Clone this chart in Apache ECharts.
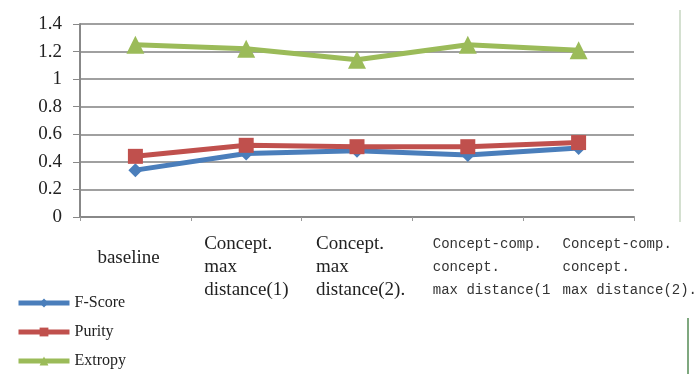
<!DOCTYPE html>
<html>
<head>
<meta charset="utf-8">
<script src="https://cdn.jsdelivr.net/npm/echarts@6/dist/echarts.min.js"></script>
<style>html,body{margin:0;padding:0;background:#fff;}#c{width:694px;height:374px;}</style>
</head>
<body>
<div id="c"></div>
<script>
const categories = ['baseline', 'Concept max distance(1)', 'Concept max distance(2)', 'Concept-comp concept max distance(1)', 'Concept-comp concept max distance(2)'];
const xLabelLines = [
  ['baseline'],
  ['Concept.', 'max', 'distance(1)'],
  ['Concept.', 'max', 'distance(2).'],
  ['Concept-comp.', 'concept.', 'max distance(1'],
  ['Concept-comp.', 'concept.', 'max distance(2).']
];
const yTicks = [0, 0.2, 0.4, 0.6, 0.8, 1, 1.2, 1.4];
const fScore = [0.34, 0.46, 0.48, 0.45, 0.50];
const purity = [0.44, 0.52, 0.51, 0.51, 0.54];
const entropy = [1.25, 1.22, 1.14, 1.25, 1.21];
const seriesNames = ['F-Score', 'Purity', 'Extropy'];

const serif = 'Liberation Serif';
const mono = 'Liberation Mono';
const chart = echarts.init(document.getElementById('c'));
const richStyles = {
  s0: { width: 76, align: 'left', fontFamily: serif, fontSize: 19, lineHeight: 50, color: '#222' },
  s1: { width: 84, align: 'left', fontFamily: serif, fontSize: 19, lineHeight: 23, color: '#222' },
  s2: { width: 82, align: 'left', fontFamily: serif, fontSize: 19, lineHeight: 23, color: '#222' },
  s3: { width: 70, align: 'left', fontFamily: mono, fontSize: 14, lineHeight: 23, color: '#333' },
  s4: { width: 32, align: 'left', fontFamily: mono, fontSize: 14, lineHeight: 23, color: '#333' }
};
const colors = ['#4a7ebb', '#c0504d', '#9bbb59'];
const symbols = ['diamond', 'rect', 'triangle'];
const symbolSizes = [14, 15, 18];
const values = [fScore, purity, entropy];

chart.setOption({
  animation: false,
  backgroundColor: '#fff',
  grid: { left: 80, right: 60, top: 24, bottom: 157, outerBoundsMode: 'none', containLabel: false },
  legend: {
    orient: 'vertical', left: 16, top: 294, height: 100, padding: 0,
    itemWidth: 51, itemHeight: 11, itemGap: 11,
    data: seriesNames,
    lineStyle: { width: 5 },
    textStyle: { fontFamily: serif, fontSize: 16, color: '#222', lineHeight: 18 }
  },
  xAxis: {
    type: 'category', data: categories, boundaryGap: true,
    axisLine: { show: true, lineStyle: { color: '#888', width: 2 } },
    axisTick: { show: true, length: 4, lineStyle: { color: '#999' } },
    axisLabel: {
      interval: 0, margin: 16, verticalAlign: 'top',
      formatter: function (v, i) {
        return xLabelLines[i].map(function (l) { return '{s' + i + '|' + l + '}'; }).join('\n');
      },
      rich: richStyles
    },
    splitLine: { show: false }
  },
  yAxis: {
    type: 'value', min: 0, max: 1.4, interval: 0.2,
    axisLine: { show: true, lineStyle: { color: '#888', width: 2 } },
    axisTick: { show: true, length: 7, lineStyle: { color: '#888' } },
    axisLabel: {
      margin: 18, fontFamily: serif, fontSize: 19, color: '#222',
      formatter: function (v) { const t = yTicks.find(function (x) { return Math.abs(x - v) < 1e-9; }); return String(t !== undefined ? t : v); }
    },
    splitLine: { show: true, lineStyle: { color: '#808080', width: 1.6 } }
  },
  graphic: [
    { type: 'line', shape: { x1: 680, y1: 10, x2: 680, y2: 222 }, style: { stroke: '#d4e0d0', lineWidth: 2 } },
    { type: 'line', shape: { x1: 688, y1: 318, x2: 688, y2: 374 }, style: { stroke: '#7fa87f', lineWidth: 2 } }
  ],
  series: seriesNames.map(function (n, k) {
    return {
      name: n, type: 'line', data: values[k],
      symbol: symbols[k], symbolSize: symbolSizes[k],
      color: colors[k],
      lineStyle: { width: 5, color: colors[k] },
      itemStyle: { color: colors[k] }
    };
  })
});
</script>
</body>
</html>
